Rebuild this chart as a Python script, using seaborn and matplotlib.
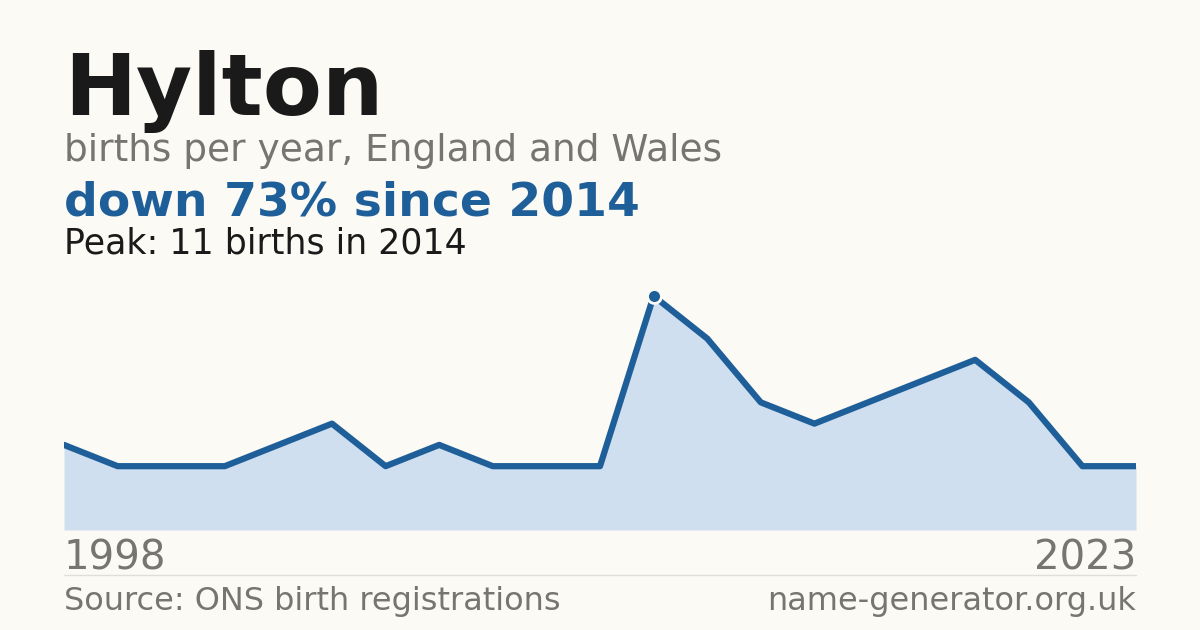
import matplotlib
matplotlib.use("Agg")
import matplotlib.pyplot as plt
import seaborn as sns
import pandas as pd

sns.set_theme(style="white")
plt.rcParams['font.family'] = ['DejaVu Sans']

idx = list(range(21))
births = [4, 3, 3, 3, 4, 5, 3, 4, 3, 3, 3, 11, 9, 6, 5, 6, 7, 8, 6, 3, 3]
start_label, end_label = "1998", "2023"
peak_i = births.index(max(births))

bg = "#fbfaf5"
line_c = "#1f5f99"
fill_c = "#cfdff0"

fig = plt.figure(figsize=(12, 6.3), dpi=100, facecolor=bg)
ax = fig.add_axes([64/1200, 100/630, 1072/1200, 234/630])
ax.set_facecolor(bg)
df = pd.DataFrame({"i": idx, "b": births})
ax.fill_between(df["i"], 0, df["b"], color=fill_c, lw=0)
sns.lineplot(data=df, x="i", y="b", ax=ax, color=line_c, lw=4.5)
ax.plot([peak_i], [births[peak_i]], "o", ms=10, color=line_c, mec=bg, mew=2, clip_on=False, zorder=5)
ax.set_xlim(0, 20)
ax.set_ylim(0, 11)
ax.axis("off")

def T(x, y, s, **k):
    fig.text(x/1200, 1 - y/630, s, **k)

T(64, 115, "Hylton", fontsize=62, fontweight="bold", color="#1a1a1a", va="baseline")
T(64, 161, "births per year, England and Wales", fontsize=27, color="#777570", va="baseline")
T(64, 215, "down 73% since 2014", fontsize=34, fontweight="bold", color="#1f5f99", va="baseline")
T(64, 254, "Peak: 11 births in 2014", fontsize=25, color="#1a1a1a", va="baseline")
T(64, 570, start_label, fontsize=29, color="#777570", va="baseline")
T(1136, 570, end_label, fontsize=29, color="#777570", va="baseline", ha="right")
T(64, 610, "Source: ONS birth registrations", fontsize=23, color="#777570", va="baseline")
T(1136, 610, "name-generator.org.uk", fontsize=23, color="#777570", va="baseline", ha="right")
fig.add_artist(plt.Line2D([64/1200, 1136/1200], [1-575/630]*2, color="#e0ded8", lw=1))

fig.savefig("out.png", dpi=100, facecolor=bg)
